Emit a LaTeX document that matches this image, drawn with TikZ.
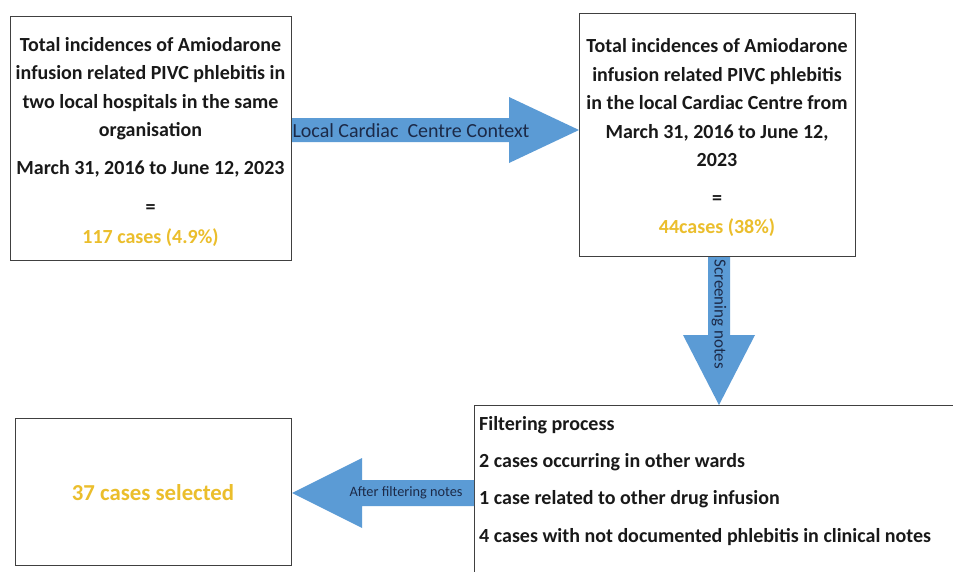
\documentclass[tikz,border=0pt]{standalone}
\usepackage{fontspec}
\setmainfont{Carlito}
\usetikzlibrary{calc}
\definecolor{gold}{HTML}{EBBE2C}
\definecolor{arrowblue}{HTML}{5B9BD5}
\definecolor{navy}{HTML}{1C2A48}
\definecolor{frame}{HTML}{404040}
\begin{document}
\begin{tikzpicture}[x=1pt,y=-1pt,
  box/.style={draw=frame, line width=1.1pt, inner sep=0pt, fill=white},
  boxtext/.style={font=\fontsize{20}{28.5}\selectfont\bfseries, text=black!90, inner sep=0pt},
  blockarrow/.style={fill=arrowblue, draw=none},
  arrowtext/.style={text=navy, inner sep=0pt}]
\useasboundingbox (0,0) rectangle (953,571);
\fill[white] (0,0) rectangle (953,571);

% boxes
\node[box, minimum width=281pt, minimum height=244pt, anchor=north west] (src) at (10,16) {};
\node[box, minimum width=276pt, minimum height=243pt, anchor=north west] (ctx) at (579,13) {};
\begin{scope}
  \clip (0,0) rectangle (953,571);
  \node[box, minimum width=500pt, minimum height=200pt, anchor=north west] (filt) at (474,405) {};
\end{scope}
\node[box, minimum width=276pt, minimum height=147pt, anchor=north west] (sel) at (15,418) {};

% box texts
\node[boxtext, align=center] (srctext) at (150.5,141.5) {Total incidences of Amiodarone\\
infusion related PIVC phlebitis in\\
two local hospitals in the same\\
organisation\\[9.5pt]
March 31, 2016 to June 12, 2023\\[10pt]
=\\[1.5pt]
\textcolor{gold}{117 cases (4.9\%)}};

\node[boxtext, align=center] (ctxtext) at (717,137.5) {Total incidences of Amiodarone\\
infusion related PIVC phlebitis\\
in the local Cardiac Centre from\\
March 31, 2016 to June 12,\\
2023\\[9.5pt]
=\\
\textcolor{gold}{44cases (38\%)}};

% the base anchor of a multi-line node is the baseline of its last line
\node[boxtext, align=left, anchor=base west,
  font=\fontsize{20}{37.3}\selectfont\bfseries] (filttext) at (479,542) {Filtering process\\
2 cases occurring in other wards\\
1 case related to other drug infusion\\
4 cases with not documented phlebitis in clinical notes};

\node[boxtext, font=\fontsize{22.8}{26}\selectfont\bfseries, text=gold] (seltext) at (153,493) {37 cases selected};

% right arrow: source box to cardiac centre box
\coordinate (r0) at (src.east |- 0,130);
\coordinate (r1) at (ctx.west |- 0,130);
\fill[blockarrow] ($(r0)+(0,-12)$) -- ($(r1)+(-70,-12)$) -- ($(r1)+(-70,-33)$) -- (r1)
  -- ($(r1)+(-70,33)$) -- ($(r1)+(-70,12)$) -- ($(r0)+(0,12)$) -- cycle;
\node[arrowtext, font=\fontsize{20}{22}\selectfont] (rlabel) at (411,131) {Local Cardiac~ Centre Context};

% down arrow: cardiac centre box to filtering box
\coordinate (d0) at (719,0 |- ctx.south);
\coordinate (d1) at (719,0 |- filt.north);
\fill[blockarrow] ($(d0)+(-11,0)$) -- ($(d1)+(-11,-70)$) -- ($(d1)+(-36,-70)$) -- (d1)
  -- ($(d1)+(36,-70)$) -- ($(d1)+(11,-70)$) -- ($(d0)+(11,0)$) -- cycle;
\node[arrowtext, font=\fontsize{17}{19}\selectfont, rotate=-90, anchor=west] (dlabel) at ($(d0)+(0,2)$) {Screening notes};

% left arrow: filtering box to selected box
\coordinate (l0) at (filt.west |- 0,493);
\coordinate (l1) at (sel.east |- 0,493);
\fill[blockarrow] ($(l0)+(0,-13)$) -- ($(l1)+(70,-13)$) -- ($(l1)+(70,-35)$) -- (l1)
  -- ($(l1)+(70,35)$) -- ($(l1)+(70,13)$) -- ($(l0)+(0,13)$) -- cycle;
\node[arrowtext, font=\fontsize{14.3}{16}\selectfont] (llabel) at (406,493) {After filtering notes};
\end{tikzpicture}
\end{document}
